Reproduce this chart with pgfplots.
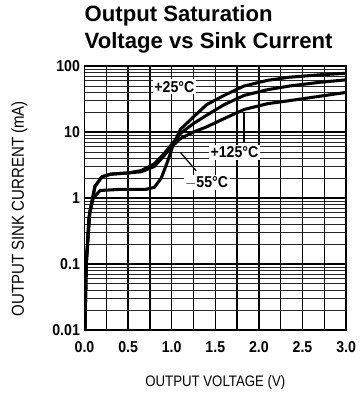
\documentclass[border=0pt]{standalone}
\usepackage{pgfplots}
\pgfplotsset{compat=1.18}
\usepackage{fontspec}
\setmainfont{Liberation Sans}
\newfontfamily\cond[FakeStretch=0.87]{Liberation Sans}
\newfontfamily\tfont[FakeStretch=0.9]{Liberation Sans}
\begin{document}
\begin{tikzpicture}
\path[use as bounding box] (-83bp,-65bp) rectangle (273bp,324bp);
\begin{axis}[
  at={(0,0)}, anchor=south west,
  scale only axis, width=257bp, height=259bp,
  ymode=log, xmin=0, xmax=3, ymin=0.01, ymax=100,
  xtick={0,0.25,...,3.0},
  xticklabels={0.0,,0.5,,1.0,,1.5,,2.0,,2.5,,3.0},
  ytick={0.01,0.1,1,10,100},
  yticklabels={0.01,0.1,1,10,100},
  /pgf/number format/assume math mode=true,
  tick label style={font=\tfont\bfseries\fontsize{15.5}{17}\selectfont},
  xticklabel style={text height=11bp, text depth=0pt, yshift=-8bp},
  yticklabel style={xshift=-1bp},
  major tick length=0pt, minor tick length=0pt,
  grid=both,
  major grid style={black, line width=1.4bp},
  minor grid style={black!85, line width=0.8bp},
  axis line style={black, line width=1.6bp},
  xlabel={OUTPUT VOLTAGE (V)},
  ylabel={OUTPUT SINK CURRENT (mA)},
  xlabel style={font=\cond\fontsize{15}{17}\selectfont, at={(axis description cs:0.5,-0.2)}, anchor=center},
  ylabel style={font=\cond\fontsize{17}{19}\selectfont, at={(axis description cs:-0.249,0.46)}, anchor=center},
  no markers,
]
% -55 C
\addplot[black, line width=3bp, line join=round] coordinates {(0.005,0.01) (0.02,0.1) (0.05,0.5) (0.1,1.0) (0.18,1.3) (0.4,1.35) (0.7,1.35) (0.8,1.45) (0.88,2.0) (0.95,3.5) (1.02,6.5) (1.1,11) (1.25,17) (1.4,26) (1.6,36) (1.83,50) (2.1,61) (2.35,68) (2.7,74) (3.0,78)};
% +25 C
\addplot[black, line width=3bp, line join=round] coordinates {(0.005,0.01) (0.02,0.1) (0.06,0.6) (0.12,1.5) (0.2,2.1) (0.3,2.3) (0.5,2.4) (0.65,2.6) (0.8,3.3) (0.9,4.5) (1.0,6.5) (1.1,9.5) (1.25,13.5) (1.4,18) (1.6,26) (1.83,36) (2.1,44) (2.35,50) (2.7,57) (3.0,62)};
% +125 C
\addplot[black, line width=3bp, line join=round] coordinates {(0.005,0.01) (0.02,0.1) (0.06,0.6) (0.12,1.5) (0.2,2.1) (0.3,2.3) (0.5,2.4) (0.65,2.5) (0.8,3.0) (0.9,4.2) (1.0,6.0) (1.1,8) (1.25,10) (1.4,12) (1.6,16) (1.83,22) (2.1,27) (2.35,30) (2.7,35) (3.0,40)};
\draw[black, line width=1.2bp] (axis cs:1.83,7) -- (axis cs:1.83,20);
\draw[black, line width=1.2bp] (axis cs:1.1,4.9) -- (axis cs:1.28,2.6);
\node[fill=white, inner sep=1.5bp, font=\tfont\bfseries\fontsize{15.5}{17}\selectfont] at (axis cs:1.03,49) {+25\textdegree C};
\node[fill=white, inner sep=1.5bp, font=\tfont\bfseries\fontsize{15.5}{17}\selectfont] at (axis cs:1.72,4.9) {+125\textdegree C};
\node[fill=white, inner sep=1.5bp, font=\tfont\bfseries\fontsize{15.5}{17}\selectfont] at (axis cs:1.40,1.7) {$-$55\textdegree C};
\end{axis}
\node[anchor=base west, inner sep=0pt, font=\bfseries\fontsize{21.8}{24}\selectfont] at (0bp,303bp) {Output Saturation};
\node[anchor=base west, inner sep=0pt, font=\bfseries\fontsize{21.8}{24}\selectfont] at (0bp,276bp) {Voltage vs Sink Current};
\end{tikzpicture}
\end{document}
